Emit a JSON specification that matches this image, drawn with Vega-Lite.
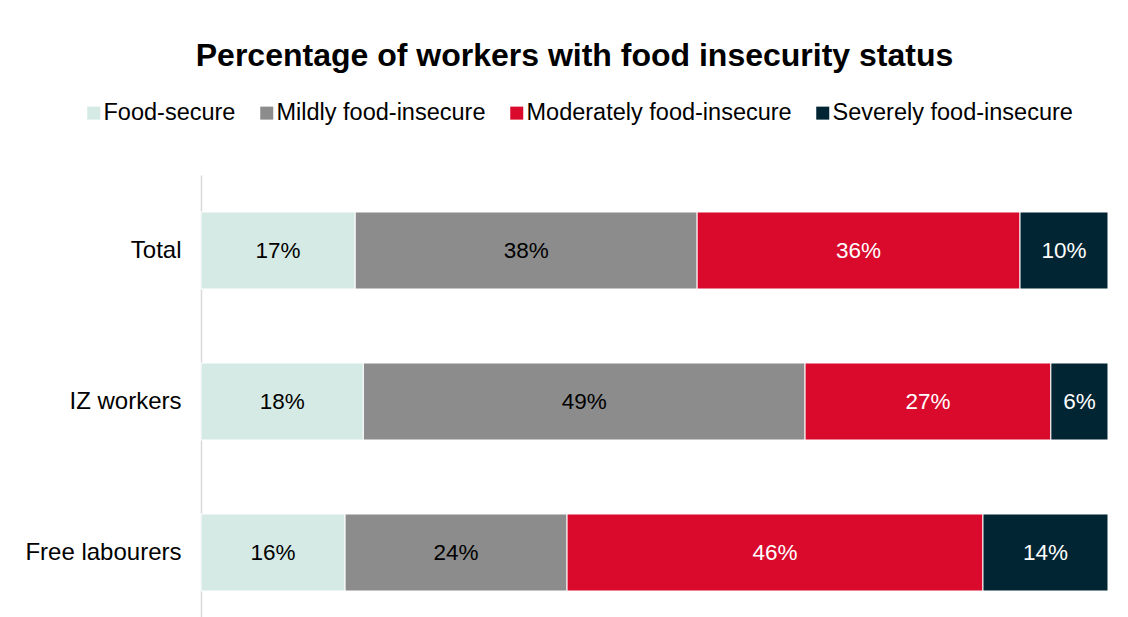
{
  "$schema": "https://vega.github.io/schema/vega-lite/v6.json",
  "width": 907,
  "height": 453,
  "autosize": {"type": "none"},
  "padding": {"left": 201, "top": 175, "right": 20, "bottom": 0},
  "background": "white",
  "title": {
    "text": "Percentage of workers with food insecurity status",
    "font": "Liberation Sans",
    "fontSize": 32,
    "fontWeight": "bold",
    "color": "#000000",
    "anchor": "middle",
    "dx": -80,
    "offset": 28
  },
  "data": {
    "values": [
      {"group": "Total", "status": "Food-secure", "k": 1, "value": 17.0, "label": "17%"},
      {"group": "Total", "status": "Mildly food-insecure", "k": 2, "value": 37.7, "label": "38%"},
      {"group": "Total", "status": "Moderately food-insecure", "k": 3, "value": 35.6, "label": "36%"},
      {"group": "Total", "status": "Severely food-insecure", "k": 4, "value": 9.7, "label": "10%"},
      {"group": "IZ workers", "status": "Food-secure", "k": 1, "value": 17.9, "label": "18%"},
      {"group": "IZ workers", "status": "Mildly food-insecure", "k": 2, "value": 48.7, "label": "49%"},
      {"group": "IZ workers", "status": "Moderately food-insecure", "k": 3, "value": 27.1, "label": "27%"},
      {"group": "IZ workers", "status": "Severely food-insecure", "k": 4, "value": 6.3, "label": "6%"},
      {"group": "Free labourers", "status": "Food-secure", "k": 1, "value": 15.9, "label": "16%"},
      {"group": "Free labourers", "status": "Mildly food-insecure", "k": 2, "value": 24.5, "label": "24%"},
      {"group": "Free labourers", "status": "Moderately food-insecure", "k": 3, "value": 45.9, "label": "46%"},
      {"group": "Free labourers", "status": "Severely food-insecure", "k": 4, "value": 13.8, "label": "14%"}
    ]
  },
  "transform": [
    {"stack": "value", "groupby": ["group"], "sort": [{"field": "k", "order": "ascending"}], "offset": "normalize", "as": ["x0", "x1"]},
    {"calculate": "(datum.x0 + datum.x1) / 2", "as": "mid"}
  ],
  "encoding": {
    "y": {
      "field": "group",
      "type": "nominal",
      "sort": ["Total", "IZ workers", "Free labourers"],
      "scale": {"paddingInner": 0.49, "paddingOuter": 0.245},
      "axis": {
        "title": null,
        "ticks": false,
        "labelFont": "Liberation Sans",
        "labelFontSize": 24,
        "labelColor": "#000000",
        "labelPadding": 20,
        "domainColor": "#d9d9d9",
        "domainWidth": 1.5,
        "grid": false
      }
    }
  },
  "layer": [
    {
      "mark": {"type": "bar", "stroke": "white", "strokeWidth": 1},
      "encoding": {
        "x": {"field": "x0", "type": "quantitative", "scale": {"domain": [0, 1], "nice": false}, "axis": null},
        "x2": {"field": "x1"},
        "color": {
          "field": "status",
          "type": "nominal",
          "scale": {
            "domain": ["Food-secure", "Mildly food-insecure", "Moderately food-insecure", "Severely food-insecure"],
            "range": ["#D5EAE4", "#8C8C8C", "#D90A2C", "#022533"]
          },
          "legend": {
            "title": null,
            "orient": "none",
            "direction": "horizontal",
            "legendX": -119,
            "legendY": -74,
            "padding": 0,
            "symbolType": "square",
            "symbolSize": 169,
            "symbolStrokeWidth": 0,
            "symbolOpacity": 1,
            "labelFont": "Liberation Sans",
            "labelFontSize": 23.5,
            "labelColor": "#000000",
            "labelOffset": -2,
            "columnPadding": 19,
            "labelLimit": 400
          }
        }
      }
    },
    {
      "mark": {"type": "text", "font": "Liberation Sans", "fontSize": 22.5, "align": "center", "baseline": "middle"},
      "encoding": {
        "x": {"field": "mid", "type": "quantitative"},
        "text": {"field": "label"},
        "color": {
          "condition": {"test": "datum.k >= 3", "value": "#ffffff"},
          "value": "#000000"
        }
      }
    }
  ],
  "config": {"view": {"stroke": null}}
}
